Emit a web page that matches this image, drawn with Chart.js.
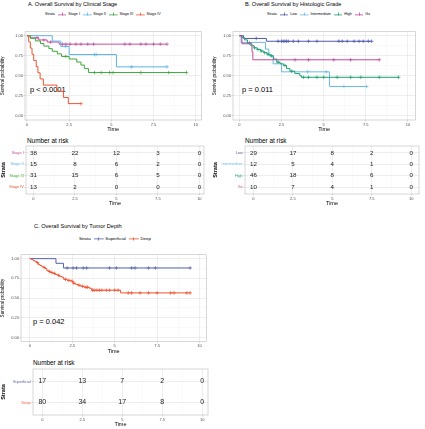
<!DOCTYPE html>
<html>
<head>
<meta charset="utf-8">
<script src="https://cdn.jsdelivr.net/npm/chart.js@4.4.0/dist/chart.umd.min.js"></script>
<style>
body{margin:0;background:#fff;width:425px;height:429px;position:relative;overflow:hidden;font-family:"Liberation Sans",Arial,sans-serif;}
canvas{position:absolute;}
.t{position:absolute;white-space:nowrap;color:#000;line-height:1;transform:translateY(-50%);}
.lg{position:absolute;display:flex;align-items:center;white-space:nowrap;transform:translateY(-50%);color:#000;line-height:1;}
.lg i{display:inline-block;height:5px;}
</style>
</head>
<body>
<div class="t" style="left:28px;top:5px;font-size:5.6px">A. Overall Survival by Clinical Stage</div>
<div class="t" style="left:245px;top:5px;font-size:5.6px">B. Overall Survival by Histologic Grade</div>
<div class="t" style="left:34px;top:227px;font-size:5.6px">C. Overall Survival by Tumor Depth</div>
<div class="t" style="left:30px;top:90px;font-size:7.5px">p &lt; 0.0001</div>
<div class="t" style="left:242px;top:90px;font-size:7.5px">p = 0.011</div>
<div class="t" style="left:33px;top:321.7px;font-size:7.5px">p = 0.042</div>
<div class="t" style="left:27px;top:141px;font-size:6.4px">Number at risk</div>
<div class="t" style="left:245px;top:140.7px;font-size:6.4px">Number at risk</div>
<div class="t" style="left:33px;top:362.7px;font-size:6.4px">Number at risk</div>
<script>
// time points shown under the curves and grid positions
const gridX = [0, 1.25, 2.5, 3.75, 5, 6.25, 7.5, 8.75, 10];
const gridY = [0, 0.125, 0.25, 0.375, 0.5, 0.625, 0.75, 0.875, 1];
const riskTimes = [0, 2.5, 5, 7.5, 10];

// A. clinical stage
const stageNames = ['Stage I', 'Stage II', 'Stage III', 'Stage IV'];
const stageColors = ['#C4519E', '#5DB3E5', '#3FA63F', '#EC5533'];
const stageTimes = [
  [0.2, 0.7, 1.2, 1.9],
  [1.5, 2.0, 2.5, 5.3],
  [0.2, 0.5, 0.8, 1.0, 1.3, 1.5, 1.8, 2.05, 2.5, 2.95, 3.2, 3.4, 3.65],
  [0.1, 0.2, 0.3, 0.4, 0.55, 0.65, 0.78, 0.97, 1.77, 2.16, 2.45]
];
const stageSurv = [
  [0.974, 0.947, 0.921, 0.895],
  [0.933, 0.867, 0.765, 0.612],
  [0.968, 0.935, 0.903, 0.871, 0.839, 0.806, 0.774, 0.742, 0.71, 0.672, 0.634, 0.59, 0.541],
  [0.923, 0.846, 0.769, 0.692, 0.615, 0.538, 0.462, 0.385, 0.308, 0.231, 0.154]
];
const stageCensor = [
  [0.6, 1.0, 1.4, 2.1, 2.3, 2.55, 2.9, 3.2, 3.6, 3.95, 5.8, 6.1, 6.75, 7.05, 7.5, 7.9, 8.3],
  [2.3, 4.0, 4.1, 6.2, 8.3],
  [2.3, 4.0, 4.4, 4.9, 5.1, 6.75, 8.4, 9.45],
  [3.2]
];
const stageRisk = [[38, 22, 12, 3, 0], [15, 8, 6, 2, 0], [31, 15, 6, 5, 0], [13, 2, 0, 0, 0]];

// B. histologic grade
const gradeNames = ['Low', 'Intermediate', 'High', 'Gx'];
const gradeColors = ['#4F58A8', '#6DB8E8', '#1FA173', '#C4479B'];
const gradeTimes = [
  [0.25, 1.6],
  [0.1, 1.55, 1.75, 2.0, 2.5, 5.35],
  [0.15, 0.3, 0.48, 0.68, 0.87, 1.06, 1.26, 1.45, 1.64, 1.84, 2.03, 2.22, 2.42, 2.61, 2.8, 3.0, 3.29, 3.58, 3.68],
  [0.15, 0.75, 0.8]
];
const gradeSurv = [
  [0.966, 0.931],
  [0.917, 0.833, 0.75, 0.65, 0.55, 0.367],
  [0.978, 0.948, 0.908, 0.876, 0.849, 0.829, 0.809, 0.789, 0.769, 0.749, 0.709, 0.67, 0.65, 0.63, 0.59, 0.558, 0.53, 0.502, 0.482],
  [0.9, 0.8, 0.7]
];
const gradeCensor = [
  [1.0, 2.3, 2.5, 2.6, 2.7, 2.8, 2.9, 3.2, 3.5, 4.1, 4.6, 5.9, 6.1, 6.4, 6.8, 7.1, 7.35, 7.65, 7.85],
  [4.05, 5.15, 6.2, 7.55],
  [0.6, 0.9, 1.1, 1.3, 1.5, 1.7, 1.9, 2.3, 2.7, 3.1, 3.8, 4.1, 4.6, 5.0, 5.8, 6.6, 7.2, 8.3, 9.45],
  [3.3, 4.1, 5.6, 6.6, 8.3]
];
const gradeRisk = [[29, 17, 8, 2, 0], [12, 5, 4, 1, 0], [46, 18, 8, 6, 0], [10, 7, 4, 1, 0]];

// C. tumor depth
const depthNames = ['Superficial', 'Deep'];
const depthColors = ['#5461B0', '#EF5330'];
const depthTimes = [
  [1.54, 1.98],
  [0.1, 0.2, 0.3, 0.4, 0.5, 0.6, 0.7, 0.8, 0.9, 1.0, 1.1, 1.2, 1.35, 1.5, 1.65, 1.75, 1.9, 2.0, 2.2, 2.45, 2.55, 2.7, 2.85, 3.0, 3.2, 3.5, 3.65, 5.35]
];
const depthSurv = [
  [0.941, 0.882],
  [0.988, 0.975, 0.963, 0.95, 0.925, 0.913, 0.9, 0.888, 0.875, 0.85, 0.838, 0.825, 0.813, 0.8, 0.788, 0.775, 0.763, 0.738, 0.725, 0.713, 0.688, 0.675, 0.663, 0.65, 0.638, 0.625, 0.6, 0.566]
];
const depthCensor = [
  [2.2, 2.55, 2.75, 3.15, 3.35, 4.7, 5.1, 6.0, 6.2, 7.0, 7.4, 9.45],
  [0.45, 0.85, 1.15, 1.3, 1.45, 1.7, 2.1, 2.3, 2.5, 2.6, 2.9, 3.1, 3.3, 3.4, 3.7, 3.8, 3.95, 4.1, 4.25, 4.5, 4.7, 5.0, 5.2, 5.8, 6.0, 6.5, 7.0, 7.5, 8.3, 8.5, 9.25, 9.45]
];
const depthRisk = [[17, 13, 7, 2, 0], [80, 34, 17, 8, 0]];

Chart.defaults.font.family = '"Liberation Sans", Arial, sans-serif';
Chart.defaults.animation = false;
Chart.defaults.plugins.legend.display = false;
Chart.defaults.plugins.tooltip.enabled = false;

function addCanvas(left, top, w, h) {
  const c = document.createElement('canvas');
  c.width = w; c.height = h;
  c.style.left = left + 'px'; c.style.top = top + 'px';
  c.style.width = w + 'px'; c.style.height = h + 'px';
  document.body.appendChild(c);
  return c;
}

function addLegend(left, top, size, keyW, names, colors) {
  const d = document.createElement('div');
  d.className = 'lg';
  d.style.left = left + 'px'; d.style.top = top + 'px'; d.style.fontSize = size + 'px';
  let html = '<span>Strata</span>';
  names.forEach((n, i) => {
    const c = colors[i];
    html += '<i style="width:' + keyW + 'px;margin:0 1.8px 0 3.3px;background:' +
      'linear-gradient(' + c + ',' + c + ') center/100% 0.8px no-repeat,' +
      'linear-gradient(' + c + ',' + c + ') center/0.8px 3.4px no-repeat"></i><span>' + n + '</span>';
  });
  d.innerHTML = html;
  document.body.appendChild(d);
}

// survival value of a step curve at time t (where censor marks sit)
function stepAt(times, surv, t) {
  let s = 1;
  times.forEach((tt, j) => { if (tt <= t) s = surv[j]; });
  return s;
}

function fixSize(prop, v) {
  return s => {
    s[prop] = v;
    s.paddingLeft = s.paddingRight = s.paddingTop = s.paddingBottom = 0;
  };
}

const panelBox = {
  id: 'panelBox',
  afterDatasetsDraw(chart) {
    const a = chart.chartArea, ctx = chart.ctx;
    ctx.save();
    ctx.strokeStyle = '#BDBDBD';
    ctx.lineWidth = 0.6;
    ctx.strokeRect(a.left, a.top, a.right - a.left, a.bottom - a.top);
    ctx.restore();
  }
};

function xScale(xr, xh) {
  return {
    type: 'linear', min: xr[0], max: xr[1],
    afterBuildTicks: s => { s.ticks = gridX.map(v => ({value: v})); },
    afterFit: fixSize('height', xh),
    ticks: {autoSkip: false, maxRotation: 0, minRotation: 0, font: {size: 4}, color: '#4D4D4D', padding: 0.5,
      callback: v => (v % 2.5 === 0 ? String(v) : '')},
    grid: {
      color: c => (c.tick && c.tick.value % 2.5 !== 0 ? '#F2F2F2' : '#E3E3E3'),
      lineWidth: c => (c.tick && c.tick.value % 2.5 !== 0 ? 0.4 : 0.6),
      tickLength: 1.5,
      tickColor: c => (c.tick && c.tick.value % 2.5 !== 0 ? 'rgba(0,0,0,0)' : '#B3B3B3'),
      tickWidth: 0.5
    },
    border: {display: false},
    title: {display: true, text: 'Time', font: {size: 5.5}, color: '#000', padding: {top: 0, bottom: 1}}
  };
}

function kmChart(left, top, w, h, yw, xh, xr, names, colors, times, surv, censor) {
  const datasets = [];
  names.forEach((n, i) => {
    const last = surv[i][surv[i].length - 1];
    const end = Math.max(times[i][times[i].length - 1], ...censor[i]);
    const pts = [{x: 0, y: 1}].concat(times[i].map((t, j) => ({x: t, y: surv[i][j]})));
    pts.push({x: end, y: last});
    datasets.push({label: n, data: pts, showLine: true, stepped: true, borderColor: colors[i],
      borderWidth: 1, pointRadius: 0, order: names.length - i});
    datasets.push({label: n + ' censor', data: censor[i].map(t => ({x: t, y: stepAt(times[i], surv[i], t)})),
      pointStyle: 'cross', pointRadius: 1.8, borderColor: colors[i], borderWidth: 0.7, order: names.length - i});
  });
  new Chart(addCanvas(left, top, w, h), {
    type: 'scatter',
    data: {datasets},
    options: {
      responsive: false,
      layout: {padding: {top: 1, right: 1, left: 0, bottom: 0}},
      scales: {
        x: xScale(xr, xh),
        y: {
          type: 'linear', min: -0.05, max: 1.05,
          afterBuildTicks: s => { s.ticks = gridY.map(v => ({value: v})); },
          afterFit: fixSize('width', yw),
          ticks: {font: {size: 4}, color: '#4D4D4D', padding: 0.5,
            callback: v => (v % 0.25 === 0 ? v.toFixed(2) : '')},
          grid: {
            color: c => (c.tick && c.tick.value % 0.25 !== 0 ? '#F2F2F2' : '#E3E3E3'),
            lineWidth: c => (c.tick && c.tick.value % 0.25 !== 0 ? 0.4 : 0.6),
            tickLength: 1.5,
            tickColor: c => (c.tick && c.tick.value % 0.25 !== 0 ? 'rgba(0,0,0,0)' : '#B3B3B3'),
            tickWidth: 0.5
          },
          border: {display: false},
          title: {display: true, text: 'Survival probability', font: {size: 4.6}, color: '#000', padding: 0}
        }
      }
    },
    plugins: [panelBox]
  });
}

const riskText = {
  id: 'riskText',
  afterDatasetsDraw(chart, args, opts) {
    const ctx = chart.ctx;
    ctx.save();
    ctx.font = opts.size + 'px "Liberation Sans", Arial, sans-serif';
    ctx.fillStyle = '#1A1A1A';
    ctx.textAlign = 'center';
    ctx.textBaseline = 'middle';
    chart.data.datasets.forEach((ds, i) => {
      chart.getDatasetMeta(i).data.forEach((pt, j) => ctx.fillText(String(ds.data[j].n), pt.x, pt.y));
    });
    ctx.restore();
  }
};

function riskTable(left, top, w, h, yw, xh, xr, names, colors, risk, numSize) {
  const datasets = names.map((n, i) => ({
    label: n,
    data: riskTimes.map((t, j) => ({x: t, y: i + 1, n: risk[i][j]})),
    pointRadius: 0
  }));
  new Chart(addCanvas(left, top, w, h), {
    type: 'scatter',
    data: {datasets},
    options: {
      responsive: false,
      layout: {padding: {top: 1, right: 1, left: 0, bottom: 0}},
      plugins: {riskText: {size: numSize}},
      scales: {
        x: xScale(xr, xh),
        y: {
          type: 'linear', min: 0.4, max: names.length + 0.6, reverse: true,
          afterBuildTicks: s => { s.ticks = names.map((n, i) => ({value: i + 1})); },
          afterFit: fixSize('width', yw),
          ticks: {font: {size: 3.8}, padding: 0.8, color: c => colors[c.index],
            callback: v => names[v - 1]},
          grid: {color: '#E3E3E3', lineWidth: 0.6, tickLength: 1.5, tickColor: '#B3B3B3', tickWidth: 0.5},
          border: {display: false},
          title: {display: true, text: 'Strata', font: {size: 5.5, weight: 'bold'}, color: '#000', padding: 0}
        }
      }
    },
    plugins: [panelBox, riskText]
  });
}

addLegend(45, 14.5, 3.7, 8.3, stageNames, stageColors);
addLegend(267, 14.5, 3.7, 8.3, gradeNames, gradeColors);
addLegend(79, 239, 4.4, 9.5, depthNames, depthColors);

kmChart(0, 27, 206, 107, 25, 14, [-0.116, 10.33], stageNames, stageColors, stageTimes, stageSurv, stageCensor);
kmChart(212, 27, 208, 107, 21, 14, [-0.378, 10.436], gradeNames, gradeColors, gradeTimes, gradeSurv, gradeCensor);
kmChart(0, 250, 211, 106, 21, 14.5, [-0.52, 10.4], depthNames, depthColors, depthTimes, depthSurv, depthCensor);

riskTable(0, 145, 205, 63, 26, 14, [-0.45, 10.28], stageNames, stageColors, stageRisk, 6.2);
riskTable(212, 145, 208, 63, 33, 14, [-0.533, 10.49], gradeNames, gradeColors, gradeRisk, 6.2);
riskTable(0, 368, 209, 61, 33, 14, [-0.58, 10.36], depthNames, depthColors, depthRisk, 7);
</script>
</body>
</html>
